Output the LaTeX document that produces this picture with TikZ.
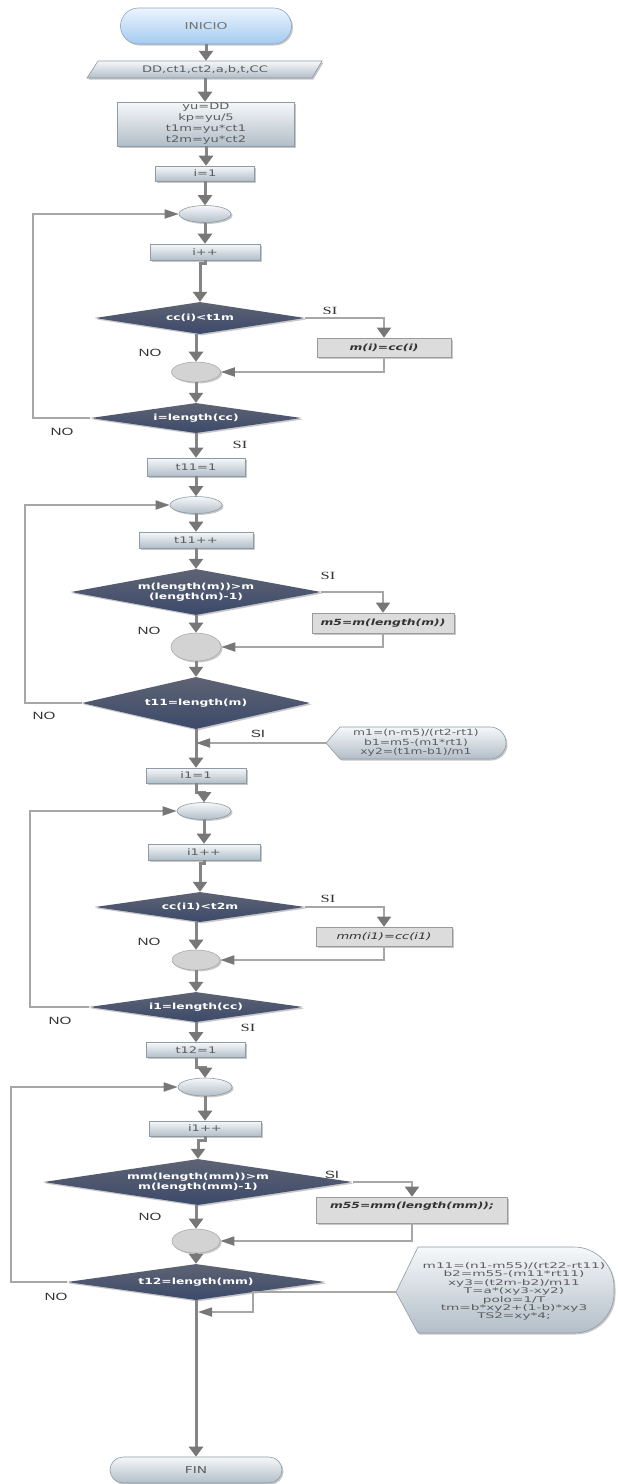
\documentclass[tikz,border=0pt]{standalone}
\usepackage{fontspec}
\newfontfamily\bx{DejaVu Sans}[FakeStretch=1.45]
\newfontfamily\hx{DejaVu Sans}[FakeStretch=1.75]
\newfontfamily\lbl{Liberation Sans}[FakeStretch=1.45]
\newfontfamily\lbs{Liberation Serif}[FakeStretch=1.5]
\usetikzlibrary{shapes.geometric,shapes.misc,shadows,arrows.meta}
\definecolor{ln}{HTML}{858585}
\definecolor{lhd}{HTML}{777777}
\definecolor{lt}{HTML}{A6A6A6}
\definecolor{tx}{HTML}{5C5C5C}
\definecolor{bxT}{HTML}{F6F8FA}
\definecolor{bxB}{HTML}{B2BEC8}
\definecolor{bxD}{HTML}{8E9AA4}
\definecolor{dmT}{HTML}{5E6474}
\definecolor{dmB}{HTML}{3C496A}
\definecolor{rsF}{HTML}{DCDCDC}
\definecolor{rsD}{HTML}{9A9A9A}
\definecolor{inT}{HTML}{ECF5FE}
\definecolor{inB}{HTML}{A4CAF0}
\definecolor{inD}{HTML}{8AA6C2}
\definecolor{mgF}{HTML}{D3D3D3}
\definecolor{mgD}{HTML}{ABABAB}
\newcommand\dtx[1]{\makebox[0pt]{\begin{tabular}{@{}c@{}}#1\end{tabular}}}
\begin{document}
\begin{tikzpicture}[x=1pt,y=-1pt,
  shd/.style={drop shadow={shadow xshift=1.5pt,shadow yshift=-1.5pt,opacity=.3,fill=black!70}},
  sProc/.style={rectangle,draw=bxD,line width=.6pt,top color=bxT,bottom color=bxB,shd,inner sep=0pt,
     font=\bx\fontsize{9}{11}\selectfont,text=tx,align=center},
  sTxt/.style={rectangle,inner sep=0pt,font=\bx\fontsize{9}{11}\selectfont,text=tx,align=center},
  sTerm/.style={rounded rectangle,draw=inD,line width=.6pt,top color=inT,bottom color=inB,shd,inner sep=0pt,
     font=\bx\fontsize{9.5}{11}\selectfont,text=black!55},
  sFin/.style={rounded rectangle,draw=bxD,line width=.6pt,top color=bxT,bottom color=bxB,shd,inner sep=0pt,
     font=\bx\fontsize{9.5}{11}\selectfont,text=tx},
  sOval/.style={ellipse,draw=bxD,line width=.6pt,top color=bxT,bottom color=bxB,shd,inner sep=0pt},
  sMrg/.style={ellipse,draw=mgD,line width=.6pt,fill=mgF,shd,inner sep=0pt},
  sDec/.style={diamond,top color=dmT,bottom color=dmB,shd,inner sep=0pt,
     font=\bx\bfseries\fontsize{8.5}{10}\selectfont,text=white},
  sRes/.style={rectangle,draw=rsD,line width=.6pt,fill=rsF,shd,inner sep=0pt,
     font=\bx\bfseries\itshape\fontsize{8.5}{10}\selectfont,text=black!80},
  sRes2/.style={sRes,font=\bx\itshape\fontsize{9}{10}\selectfont},
  sNo/.style={font=\lbl\fontsize{10.5}{12}\selectfont,text=black!80,inner sep=0pt},
  sSi/.style={font=\lbs\fontsize{11}{12}\selectfont,text=black!80,inner sep=0pt},
  sSiS/.style={font=\lbl\fontsize{10.5}{12}\selectfont,text=black!80,inner sep=0pt},
  varr/.style={draw=ln,line width=3pt,-{Triangle[length=10pt,width=14pt,color=lhd]}},
  thinv/.style={draw=lt,line width=1.8pt,-{Triangle[length=10pt,width=14pt,color=lhd]}},
  harr/.style={draw=lt,line width=1.8pt,-{Triangle[length=14pt,width=9pt,color=lhd]}},
  lpl/.style={draw=lt,line width=1.8pt}]
\fill[white] (0,0) rectangle (618,1484);
\useasboundingbox (0,0) rectangle (618,1484);
\coordinate (lpa) at (33,0);
\coordinate (lpb) at (25,0);
\coordinate (lpc) at (30,0);
\coordinate (lpd) at (11,0);
\coordinate (kA) at (253,0);
\coordinate (mj) at (198,1312);

% ---------- shapes ----------
\node[sTerm,minimum width=171,minimum height=36] (ini) at (206,26) {INICIO};
\shade[top color=bxT,bottom color=bxB,draw=bxD,line width=.6pt,shd] (87,78) -- (98,61) -- (322,61) -- (312,78) -- cycle;
\node[sTxt,minimum width=213,minimum height=17] (inp) at (205,69.5) {DD,ct1,ct2,a,b,t,CC};
\node[sProc,minimum width=177,minimum height=44] (yu) at (206,124) {yu=DD\\kp=yu/5\\t1m=yu*ct1\\t2m=yu*ct2};
\node[sProc,minimum width=99,minimum height=15] (ia) at (205,173.5) {i=1};
\node[sOval,minimum width=52,minimum height=17] (e1) at (205,214) {};
\node[sProc,minimum width=110,minimum height=16] (ipp) at (205,252) {i++};
\node[sDec,minimum width=210,minimum height=32] (d1) at (200,318) {\dtx{cc(i)<t1m}};
\node[sRes,minimum width=134,minimum height=19] (r1) at (384,347.5) {m(i)=cc(i)};
\node[sMrg,minimum width=49,minimum height=20] (e2) at (196,372) {};
\node[sDec,minimum width=211,minimum height=30] (d2) at (196,418) {\dtx{i=length(cc)}};
\node[sProc,minimum width=98,minimum height=18] (t11) at (196,467) {t11=1};
\node[sOval,minimum width=52,minimum height=17] (e3) at (196,505) {};
\node[sProc,minimum width=114,minimum height=16] (t11pp) at (196,540) {t11++};
\node[sDec,minimum width=250,minimum height=46] (d3) at (196,592) {\dtx{m(length(m))>m\\(length(m)-1)}};
\node[sRes,minimum width=142,minimum height=20] (r2) at (383,623) {m5=m(length(m))};
\node[sMrg,minimum width=50,minimum height=28] (e4) at (196,647) {};
\node[sDec,minimum width=228,minimum height=52] (d4) at (196,703) {\dtx{t11=length(m)}};
\shade[top color=bxT,bottom color=bxB,draw=bxD,line width=.6pt,shd]
  (326,743) -- (340,727) -- (490,727) arc[start angle=90,end angle=-90,radius=16pt] -- (340,759) -- cycle;
\node[sTxt,minimum width=180,minimum height=32,font=\bx\fontsize{8.5}{9.5}\selectfont] (hx1) at (416,743)
  {m1=(n-m5)/(rt2-rt1)\\b1=m5-(m1*rt1)\\xy2=(t1m-b1)/m1};
\node[sProc,minimum width=100,minimum height=15] (ib) at (196,775.5) {i1=1};
\node[sOval,minimum width=54,minimum height=17] (e5) at (204,811) {};
\node[sProc,minimum width=112,minimum height=16] (i1pp) at (204,852) {i1++};
\node[sDec,minimum width=210,minimum height=30] (d5) at (200,907) {\dtx{cc(i1)<t2m}};
\node[sRes2,minimum width=136,minimum height=19] (r3) at (384,936.5) {mm(i1)=cc(i1)};
\node[sMrg,minimum width=48,minimum height=20] (e6) at (196,960) {};
\node[sDec,minimum width=214,minimum height=30] (d6) at (196,1007) {\dtx{i1=length(cc)}};
\node[sProc,minimum width=99,minimum height=15] (t12) at (196,1050) {t12=1};
\node[sOval,minimum width=54,minimum height=18] (e7) at (205,1087) {};
\node[sProc,minimum width=112,minimum height=15] (i1pq) at (205,1128.5) {i1++};
\node[sDec,minimum width=309,minimum height=46] (d7) at (198,1182) {\dtx{mm(length(mm))>m\\m(length(mm)-1)}};
\node[sRes,minimum width=191,minimum height=26] (r4) at (412,1210) {\raisebox{2pt}[0pt][0pt]{m55=mm(length(mm));}};
\node[sMrg,minimum width=48,minimum height=24] (e8) at (196,1241) {};
\node[sDec,minimum width=258,minimum height=36] (d8) at (196,1282) {\dtx{t12=length(mm)}};
\shade[top color=bxT,bottom color=bxB,draw=bxD,line width=.6pt,shd]
  (396,1292) -- (418,1247) -- (574,1247) arc[start angle=90,end angle=0,radius=40pt] -- (614,1293)
  arc[start angle=0,end angle=-90,radius=40pt] -- (418,1333) -- cycle;
\node[sTxt,minimum width=236,minimum height=86,font=\hx\fontsize{7.8}{8.3}\selectfont] (hx2) at (514,1292)
  {\raisebox{-2pt}[0pt][0pt]{\begin{tabular}{@{}c@{}}m11=(n1-m55)/(rt22-rt11)\\b2=m55-(m11*rt11)\\xy3=(t2m-b2)/m11\\T=a*(xy3-xy2)\\polo=1/T\\tm=b*xy2+(1-b)*xy3\\TS2=xy*4;\end{tabular}}};
\node[sFin,minimum width=172,minimum height=26] (fin) at (196,1470) {FIN};

% ---------- labels ----------
\node[sSi] (s1) at (330,311) {SI};
\node[sNo] (n1) at (150,353) {NO};
\node[sNo] (n2) at (62,432) {NO};
\node[sSi] (s2) at (240,445) {SI};
\node[sSi] (s3) at (328,576) {SI};
\node[sNo] (n3) at (149,631) {NO};
\node[sNo] (n4) at (44,716) {NO};
\node[sSiS] (s4) at (258,734) {SI};
\node[sSi] (s5) at (328,899) {SI};
\node[sNo] (n5) at (149,942) {NO};
\node[sNo] (n6) at (60,1021) {NO};
\node[sSi] (s6) at (248,1028) {SI};
\node[sSiS] (s7) at (332,1175) {SI};
\node[sNo] (n7) at (150,1217) {NO};
\node[sNo] (n8) at (56,1297) {NO};

% ---------- connectors ----------
\draw[varr] (ini.south) -- (ini.south |- inp.north);
\draw[varr] (inp.south) -- (inp.south |- yu.north);
\draw[varr] (yu.south) -- (yu.south |- ia.north);
\draw[varr] (ia.south) -- (ia.south |- e1.north);
\draw[varr] (e1.south) -- (e1.south |- ipp.north);
\draw[varr] (ipp.south) -- ++(0,3) -| (d1.north);
\draw[varr] (d1.south -| e2.north) -- (e2.north);
\draw[thinv] (d1.east) -| (r1.north);
\draw[harr] (r1.south) |- (e2.east);
\draw[varr] (e2.south) -- (e2.south |- d2.north);
\draw[harr] (d2.west) -- (d2.west -| lpa) |- (e1.west);
\draw[varr] (d2.south) -- (d2.south |- t11.north);
\draw[varr] (t11.south) -- (t11.south |- e3.north);
\draw[varr] (e3.south) -- (e3.south |- t11pp.north);
\draw[varr] (t11pp.south) -- (t11pp.south |- d3.north);
\draw[thinv] (d3.east) -| (r2.north);
\draw[varr] (d3.south) -- (d3.south |- e4.north);
\draw[harr] (r2.south) |- (e4.east);
\draw[varr] (e4.south) -- (e4.south |- d4.north);
\draw[harr] (d4.west) -- (d4.west -| lpb) |- (e3.west);
\draw[varr] (d4.south) -- (d4.south |- ib.north);
\draw[harr] (hx1.west) -- (hx1.west -| d4.south);
\draw[varr] (ib.south) -- ++(0,9) -| (e5.north);
\draw[varr] (e5.south) -- (e5.south |- i1pp.north);
\draw[varr] (i1pp.south) -- ++(0,3) -| (d5.north);
\draw[varr] (d5.south -| e6.north) -- (e6.north);
\draw[thinv] (d5.east) -| (r3.north);
\draw[harr] (r3.south) |- (e6.east);
\draw[varr] (e6.south) -- (e6.south |- d6.north);
\draw[harr] (d6.west) -- (d6.west -| lpc) |- (e5.west);
\draw[varr] (d6.south) -- (d6.south |- t12.north);
\draw[varr] (t12.south) -- ++(0,10) -| (e7.north);
\draw[varr] (e7.south) -- (e7.south |- i1pq.north);
\draw[varr] (i1pq.south) -- ++(0,4) -| (d7.north);
\draw[thinv] (d7.east) -| (r4.north);
\draw[varr] (d7.south -| e8.north) -- (e8.north);
\draw[harr] (r4.south) |- (e8.east);
\draw[varr] (e8.south) -- (e8.south |- d8.north);
\draw[harr] (d8.west) -- (d8.west -| lpd) |- (e7.west);
\draw[varr] (d8.south) -- (d8.south |- fin.north);
\draw[harr] (hx2.west) -- (hx2.west -| kA) |- (mj);
\end{tikzpicture}
\end{document}
